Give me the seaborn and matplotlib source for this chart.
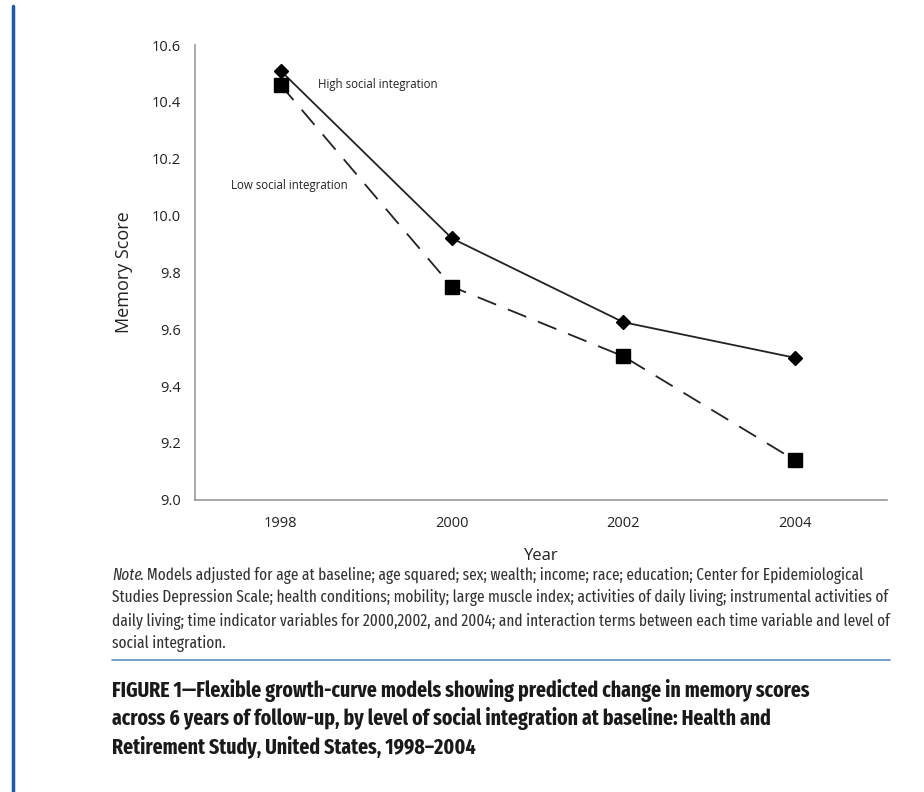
import pandas as pd
import matplotlib
matplotlib.use("Agg")
import matplotlib.pyplot as plt
import seaborn as sns

# dados
anos = [1998, 2000, 2002, 2004]
alta_integracao = [10.51, 9.92, 9.625, 9.50]
baixa_integracao = [10.46, 9.75, 9.505, 9.14]
grupos = ["High social integration", "Low social integration"]
yticks = [9.0, 9.2, 9.4, 9.6, 9.8, 10.0, 10.2, 10.4, 10.6]

linhas_nota = [
    ". Models adjusted for age at baseline; age squared; sex; wealth; income; race; education; Center for Epidemiological",
    "Studies Depression Scale; health conditions; mobility; large muscle index; activities of daily living; instrumental activities of",
    "daily living; time indicator variables for 2000,2002, and 2004; and interaction terms between each time variable and level of",
    "social integration.",
]
titulo = [
    "FIGURE 1\u2014Flexible growth-curve models showing predicted change in memory scores",
    "across 6 years of follow-up, by level of social integration at baseline: Health and",
    "Retirement Study, United States, 1998\u20132004",
]

sns.set_style("white")
plt.rcParams["font.family"] = ["Open Sans", "DejaVu Sans"]
fonte_cond = ["Fira Sans Extra Condensed", "Roboto Condensed", "DejaVu Sans"]

df = pd.DataFrame({
    "Year": anos * 2,
    "Memory Score": alta_integracao + baixa_integracao,
    "Grupo": [grupos[0]] * 4 + [grupos[1]] * 4,
})

fig = plt.figure(figsize=(9.24, 7.92), dpi=100)
ax = fig.add_axes([0.211, 0.369, 0.749, 0.574])

sns.lineplot(data=df, x="Year", y="Memory Score", hue="Grupo", style="Grupo",
             palette={grupos[0]: "#222222", grupos[1]: "#222222"},
             dashes={grupos[0]: "", grupos[1]: (11, 7)},
             linewidth=1.3, legend=False, ax=ax)

# marcadores por cima
ax.plot(anos, alta_integracao, "D", color="black", markersize=7, zorder=5)
ax.plot(anos, baixa_integracao, "s", color="black", markersize=10, zorder=5)

ax.set_xlim(1997.0, 2005.08)
ax.set_ylim(9.0, 10.6)
ax.set_yticks(yticks)
ax.set_yticklabels([f"{v:.1f}" for v in yticks], fontsize=10.5, color="#222222")
ax.set_xticks(anos)
ax.set_xticklabels([str(a) for a in anos], fontsize=10.5, color="#222222")
ax.set_xticks([1997.0, 1999, 2001, 2003, 2005.08], minor=True)
ax.tick_params(axis="x", which="major", length=0, pad=12)
ax.tick_params(axis="x", which="minor", length=5, width=1, color="#999999", direction="out")
ax.tick_params(axis="y", length=4, width=1, color="#999999", direction="inout", pad=8)

for lado in ["top", "right"]:
    ax.spines[lado].set_visible(False)
for lado in ["left", "bottom"]:
    ax.spines[lado].set_color("#999999")
    ax.spines[lado].set_linewidth(1.2)

ax.set_xlabel("Year", fontsize=12, labelpad=12, color="#222222")
ax.set_ylabel("Memory Score", fontsize=13, labelpad=14, color="#222222")

ax.text(1998.44, 10.46, "High social integration", fontsize=8.3, color="#222222", va="center")
ax.text(1997.42, 10.105, "Low social integration", fontsize=8.3, color="#222222", va="center")

# barra azul à esquerda e linha azul
fig.add_artist(plt.Line2D([13 / 924, 13 / 924], [0, 1 - 6 / 792], color="#1d5aa5", linewidth=2.5))
fig.add_artist(plt.Line2D([112 / 924, 890 / 924], [1 - 660 / 792, 1 - 660 / 792], color="#5b8ec8", linewidth=1.2))

renderer = fig.canvas.get_renderer()


def ajustar_tamanho(texto, alvo, **kw):
    # mede a largura a 12 pt e escala para a largura do original
    t = fig.text(0, 0, texto, fontsize=12, family=fonte_cond, **kw)
    w = t.get_window_extent(renderer=renderer).width
    t.remove()
    return 12 * alvo / w


x0 = 112 / 924
tam_nota = ajustar_tamanho(linhas_nota[2], 778)
tam_titulo = ajustar_tamanho(titulo[0], 698, weight="bold")

# nota
t = fig.text(x0, 1 - 575 / 792, "Note", fontsize=tam_nota, family=fonte_cond,
             style="italic", color="#333333", va="center")
bb = t.get_window_extent(renderer=renderer)
fig.text((bb.x1 - 2) / 924, 1 - 575 / 792, linhas_nota[0], fontsize=tam_nota, family=fonte_cond,
         color="#333333", va="center")
for i, linha in enumerate(linhas_nota[1:], start=1):
    fig.text(x0, 1 - (575 + 23 * i) / 792, linha, fontsize=tam_nota, family=fonte_cond,
             color="#333333", va="center")

# título
for i, linha in enumerate(titulo):
    fig.text(x0, 1 - (691 + 28 * i) / 792, linha, fontsize=tam_titulo, family=fonte_cond,
             weight="bold", color="#1a1a1a", va="center")

fig.savefig("out.png", dpi=100)
